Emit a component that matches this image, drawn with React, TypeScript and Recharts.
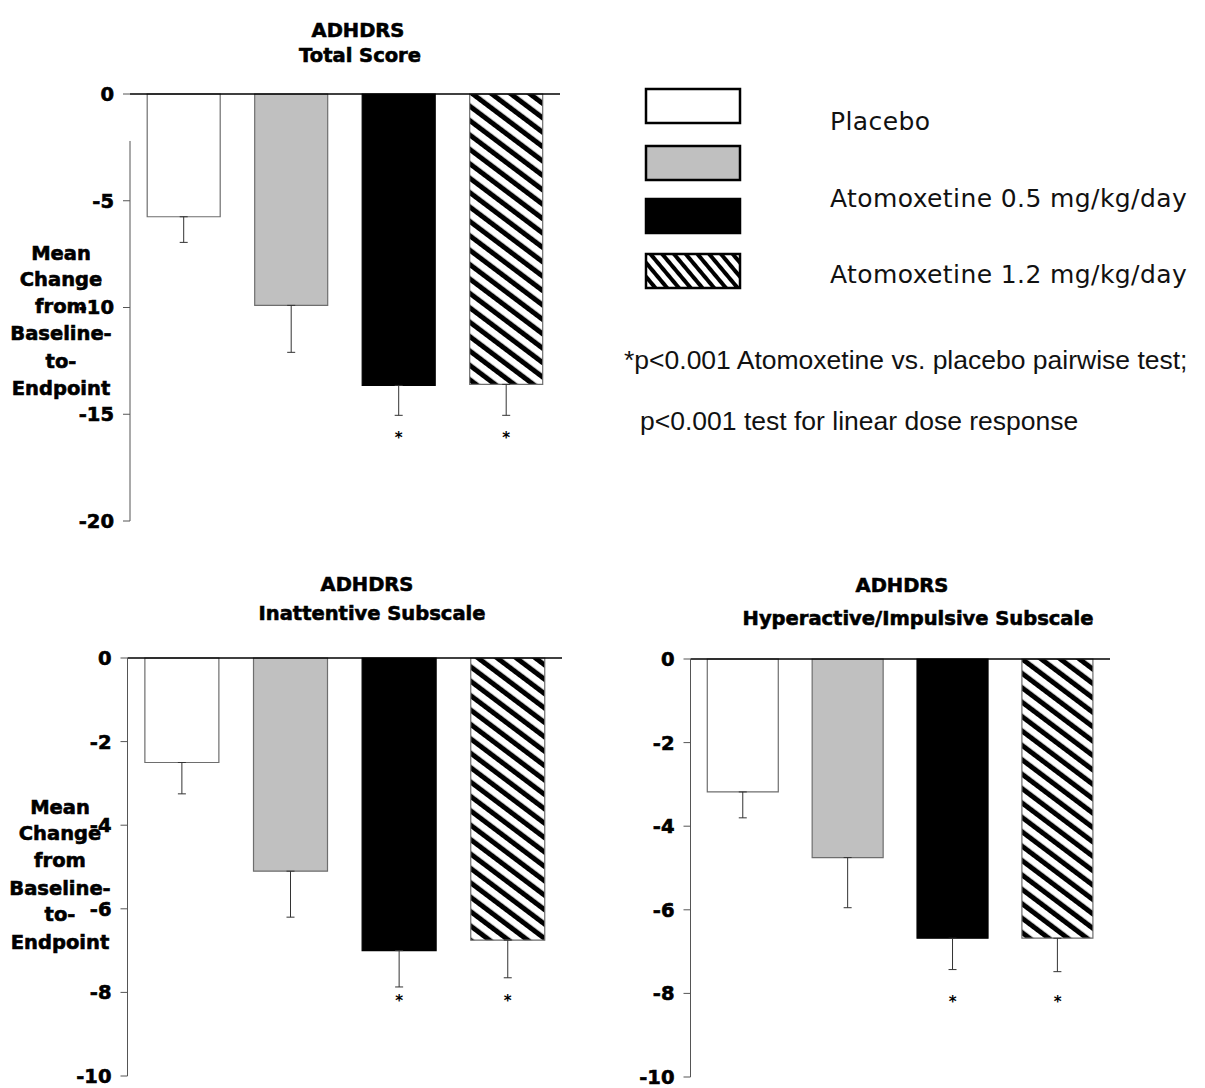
import React from 'react'
import { BarChart, Bar, XAxis, YAxis, Cell, ErrorBar, ReferenceLine, ReferenceDot } from 'recharts'

// treatment arms, left to right (x labels are not shown on the slide)
const arms = ['Placebo', 'Atomoxetine 0.5', 'Atomoxetine 1.2', 'Atomoxetine 4th arm']
const legendLabels = ['Placebo', 'Atomoxetine 0.5 mg/kg/day', 'Atomoxetine 1.2 mg/kg/day']

// ADHDRS total score
const totalMeans = [-5.75, -9.9, -13.65, -13.6]
const totalErrs = [1.2, 2.2, 1.4, 1.45]
const totalTicks = [0, -5, -10, -15, -20]

// inattentive subscale
const inattMeans = [-2.5, -5.1, -7.0, -6.75]
const inattErrs = [0.75, 1.1, 0.87, 0.9]

// hyperactive/impulsive subscale
const hyperMeans = [-3.18, -4.75, -6.68, -6.68]
const hyperErrs = [0.62, 1.2, 0.75, 0.8]

const subTicks = [0, -2, -4, -6, -8, -10]

// arms marked with * (p<0.001 vs placebo)
const starred = [false, false, true, true]
const totalStarY = -16.1
const subStarY = -8.2

const notes = ['*p<0.001 Atomoxetine vs. placebo pairwise test;', 'p<0.001 test for linear dose response']
const yLabel = ['Mean', 'Change', 'from', 'Baseline-', 'to-', 'Endpoint']

const fills = ['#ffffff', '#c0c0c0', '#000000', 'url(#hatchBar)']
const strokes = ['#6e6e6e', '#6e6e6e', '#000000', '#6e6e6e']

// heavy bold look of the slide text
const bold = {
	fontFamily: 'DejaVu Sans',
	fontWeight: 700,
	fontSize: 19.5,
	fill: '#000',
	stroke: '#000',
	strokeWidth: 0.6,
}

type PanelProps = {
	means: number[]
	errs: number[]
	ticks: number[]
	starY: number
	width: number
	height: number
	margin: { top: number; right: number; bottom: number; left: number }
	axisFrom?: number
}

const Panel = ({ means, errs, ticks, starY, width, height, margin, axisFrom }: PanelProps) => {
	const data = arms.map((name, i) => ({ name, value: means[i], err: [errs[i], 0] }))
	const min = Math.min(...ticks)
	return (
		<BarChart width={width} height={height} data={data} margin={margin} barCategoryGap="16%" style={{ overflow: 'visible' }}>
			<XAxis dataKey="name" hide />
			<YAxis
				type="number"
				domain={[min, 0]}
				ticks={ticks}
				interval={0}
				width={60}
				tickSize={7}
				tickMargin={9}
				tick={bold}
				tickLine={{ stroke: '#555' }}
				axisLine={axisFrom === undefined ? { stroke: '#555' } : false}
			/>
			{axisFrom !== undefined && (
				<ReferenceLine
					segment={[{ x: arms[0], y: axisFrom }, { x: arms[0], y: min }]}
					position="start"
					stroke="#555"
					ifOverflow="visible"
				/>
			)}
			<Bar dataKey="value" isAnimationActive={false}>
				{data.map((d, i) => (
					<Cell key={d.name} fill={fills[i]} stroke={strokes[i]} strokeWidth={1.2} />
				))}
				<ErrorBar dataKey="err" direction="y" width={4} stroke="#333" strokeWidth={1} isAnimationActive={false} />
			</Bar>
			<ReferenceLine y={0} stroke="#000" strokeWidth={1.3} />
			{arms.map((a, i) =>
				starred[i] ? (
					<ReferenceDot
						key={a}
						x={a}
						y={starY}
						r={0}
						ifOverflow="visible"
						label={{ value: '*', position: 'center', fill: '#000', fontSize: 15, fontWeight: 700, fontFamily: 'DejaVu Sans' }}
					/>
				) : null
			)}
		</BarChart>
	)
}

const Lines = ({ lines, x, ys }: { lines: string[]; x: number; ys: number[] }) => (
	<>
		{lines.map((t, i) => (
			<text key={t} x={x} y={ys[i]} textAnchor="middle" dominantBaseline="central" {...bold}>
				{t}
			</text>
		))}
	</>
)

export default function App() {
	return (
		<div style={{ position: 'absolute', left: 0, top: 0, width: 1205, height: 1088, background: '#fff', overflow: 'hidden' }}>
			<div style={{ position: 'absolute', left: 0, top: 0 }}>
				<Panel
					means={totalMeans}
					errs={totalErrs}
					ticks={totalTicks}
					starY={totalStarY}
					width={600}
					height={540}
					margin={{ top: 94, right: 40, bottom: 19, left: 70 }}
					axisFrom={-2.2}
				/>
			</div>
			<div style={{ position: 'absolute', left: 0, top: 560 }}>
				<Panel
					means={inattMeans}
					errs={inattErrs}
					ticks={subTicks}
					starY={subStarY}
					width={600}
					height={528}
					margin={{ top: 98, right: 38, bottom: 12, left: 67.5 }}
				/>
			</div>
			<div style={{ position: 'absolute', left: 600, top: 560 }}>
				<Panel
					means={hyperMeans}
					errs={hyperErrs}
					ticks={subTicks}
					starY={subStarY}
					width={605}
					height={528}
					margin={{ top: 99, right: 95, bottom: 11, left: 30.5 }}
				/>
			</div>
			<svg width={1205} height={1088} style={{ position: 'absolute', left: 0, top: 0, pointerEvents: 'none' }}>
				<defs>
					<pattern id="hatchBar" patternUnits="userSpaceOnUse" width={11.5} height={11.5} patternTransform="rotate(-53)">
						<rect width={11.5} height={11.5} fill="#fff" />
						<rect width={5} height={11.5} fill="#000" />
					</pattern>
					<pattern id="hatchKey" patternUnits="userSpaceOnUse" width={9} height={9} patternTransform="rotate(-40)">
						<rect width={9} height={9} fill="#fff" />
						<rect width={4} height={9} fill="#000" />
					</pattern>
				</defs>

				<Lines lines={['ADHDRS']} x={358} ys={[30]} />
				<Lines lines={['Total Score']} x={360} ys={[55]} />
				<Lines lines={['ADHDRS']} x={367} ys={[584]} />
				<Lines lines={['Inattentive Subscale']} x={372} ys={[613]} />
				<Lines lines={['ADHDRS']} x={902} ys={[585]} />
				<Lines lines={['Hyperactive/Impulsive Subscale']} x={918} ys={[618]} />

				<Lines lines={yLabel} x={61} ys={[253, 279, 306, 333, 361, 388]} />
				<Lines lines={yLabel} x={60} ys={[807, 833, 860, 888, 914, 942]} />

				{[89, 146, 199, 254].map((y, i) => (
					<rect
						key={y}
						x={646}
						y={y}
						width={94}
						height={34}
						fill={i === 3 ? 'url(#hatchKey)' : fills[i]}
						stroke="#000"
						strokeWidth={2.5}
					/>
				))}
				{legendLabels.map((t, i) => (
					<text key={t} x={830} y={[130, 207, 283][i]} fontFamily="DejaVu Sans" fontSize={25} letterSpacing={0.4} fill="#111">
						{t}
					</text>
				))}
				{notes.map((t, i) => (
					<text key={t} x={[624, 640][i]} y={[369, 430][i]} fontFamily="Liberation Sans, Arial" fontSize={26.5} fill="#111">
						{t}
					</text>
				))}
			</svg>
		</div>
	)
}
